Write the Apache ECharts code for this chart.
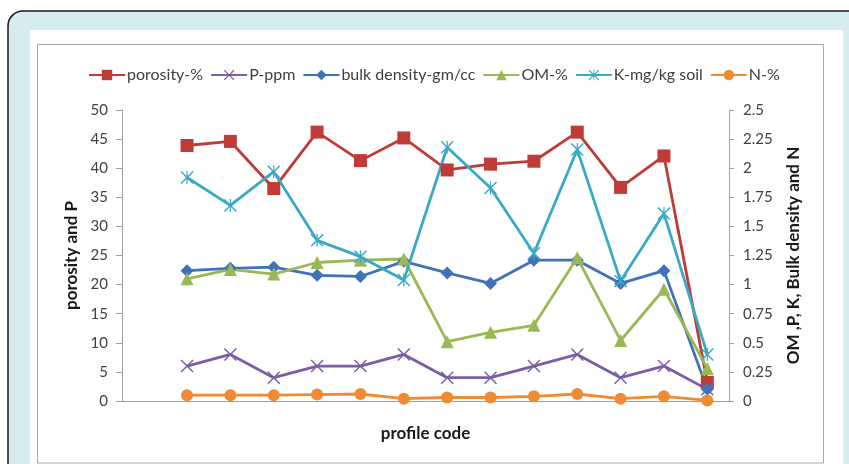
<!DOCTYPE html>
<html>
<head>
<meta charset="utf-8">
<script src="https://cdn.jsdelivr.net/npm/echarts@6/dist/echarts.min.js"></script>
<style>
html,body{margin:0;padding:0;background:#fff;}
#c{width:849px;height:464px;}
</style>
</head>
<body>
<div id="c"></div>
<script>
// Data (first category slot is empty, as in the reference)
const categories = ['', 'P1', 'P2', 'P3', 'P4', 'P5', 'P6', 'P7', 'P8', 'P9', 'P10', 'P11', 'P12', 'P13'];
const porosity = [null, 43.9, 44.6, 36.5, 46.2, 41.3, 45.2, 39.7, 40.7, 41.2, 46.2, 36.7, 42.1, 3.2];
const pPpm = [null, 6, 8, 4, 6, 6, 8, 4, 4, 6, 8, 4, 6, 2];
const bulkDensity = [null, 1.12, 1.14, 1.15, 1.08, 1.07, 1.2, 1.1, 1.01, 1.21, 1.21, 1.01, 1.12, 0.1];
const om = [null, 1.05, 1.13, 1.09, 1.19, 1.21, 1.22, 0.51, 0.59, 0.65, 1.23, 0.52, 0.96, 0.28];
const kSoil = [null, 1.92, 1.68, 1.97, 1.38, 1.24, 1.04, 2.18, 1.83, 1.27, 2.16, 1.03, 1.61, 0.4];
const nPct = [null, 0.05, 0.05, 0.05, 0.055, 0.06, 0.02, 0.03, 0.03, 0.04, 0.06, 0.02, 0.04, 0.005];
const leftTicks = [0, 50, 5];
const rightTicks = [0, 2.5, 0.25];

const xPath = 'path://M0,1.6 L1.6,0 L10,8.4 L18.4,0 L20,1.6 L11.6,10 L20,18.4 L18.4,20 L10,11.6 L1.6,20 L0,18.4 L8.4,10 Z';
const starPath = 'path://M0,1.6 L1.6,0 L10,8.4 L18.4,0 L20,1.6 L11.6,10 L20,18.4 L18.4,20 L10,11.6 L1.6,20 L0,18.4 L8.4,10 Z M9.1,0 L10.9,0 L10.9,20 L9.1,20 Z';

const FONT = 'Lato';
const chart = echarts.init(document.getElementById('c'));
function mk(name, data, color, symbol, size, yIdx) {
  return {
    name: name, type: 'line', data: data, yAxisIndex: yIdx,
    symbol: symbol, symbolSize: size, showSymbol: true,
    lineStyle: {color: color, width: 2.8},
    itemStyle: {color: color, borderColor: color, borderWidth: 0},
    emphasis: {disabled: true},
    connectNulls: false, animation: false
  };
}
chart.setOption({
  animation: false,
  textStyle: {fontFamily: FONT},
  graphic: [
    {type: 'rect', z: -10, shape: {x: 8, y: 11, width: 900, height: 520, r: 15}, style: {fill: '#d7ecf1', stroke: '#1a1a1a', lineWidth: 1.5}},
    {type: 'rect', z: -9, shape: {x: 30, y: 30, width: 813, height: 460}, style: {fill: '#ffffff'}},
    {type: 'rect', z: -8, shape: {x: 37.5, y: 44.5, width: 786, height: 418.5}, style: {fill: 'none', stroke: '#a8a8a8', lineWidth: 1}}
  ],
  legend: {
    left: 83, top: 62, itemWidth: 36, itemHeight: 13, itemGap: 7,
    textStyle: {fontFamily: FONT, fontSize: 16, color: '#404040', padding: [0, 0, 0, -3]},
    data: ['porosity-%', 'P-ppm', 'bulk density-gm/cc', 'OM-%', 'K-mg/kg soil', 'N-%']
  },
  grid: {left: 122, right: 120, top: 110, bottom: 63, containLabel: false},
  xAxis: {
    type: 'category', data: categories, boundaryGap: true,
    name: 'profile code', nameLocation: 'middle', nameGap: 24,
    nameTextStyle: {fontFamily: FONT, fontWeight: 'bold', fontSize: 17, color: '#1a1a1a'},
    axisLine: {lineStyle: {color: '#a0a0a0', width: 1}},
    axisTick: {show: false}, axisLabel: {show: false}, splitLine: {show: false}
  },
  yAxis: [
    {
      type: 'value', min: leftTicks[0], max: leftTicks[1], interval: leftTicks[2],
      name: 'porosity and P', nameLocation: 'middle', nameGap: 38, nameRotate: 90,
      nameTextStyle: {fontFamily: FONT, fontWeight: 'bold', fontSize: 17, color: '#1a1a1a'},
      axisLine: {show: true, lineStyle: {color: '#a0a0a0'}},
      axisTick: {show: true, length: 6, lineStyle: {color: '#a0a0a0'}},
      axisLabel: {fontFamily: FONT, fontSize: 15, color: '#404040', margin: 14},
      splitLine: {show: false}
    },
    {
      type: 'value', min: rightTicks[0], max: rightTicks[1], interval: rightTicks[2],
      name: 'OM ,P, K, Bulk density and N', nameLocation: 'middle', nameGap: 56, nameRotate: 90,
      nameTextStyle: {fontFamily: FONT, fontWeight: 'bold', fontSize: 17, color: '#1a1a1a'},
      axisLine: {show: true, lineStyle: {color: '#a0a0a0'}},
      axisTick: {show: true, length: 5, lineStyle: {color: '#a0a0a0'}},
      axisLabel: {fontFamily: FONT, fontSize: 15, color: '#404040', margin: 14},
      splitLine: {show: false}
    }
  ],
  series: [
    mk('porosity-%', porosity, '#be3b37', 'rect', 13, 0),
    mk('P-ppm', pPpm, '#7b5ea3', xPath, 13, 0),
    mk('bulk density-gm/cc', bulkDensity, '#3f72b8', 'diamond', 13, 1),
    mk('OM-%', om, '#98b954', 'triangle', 13, 1),
    mk('K-mg/kg soil', kSoil, '#3aa9c4', starPath, 13, 1),
    mk('N-%', nPct, '#f08a33', 'circle', 12, 1)
  ]
});
</script>
</body>
</html>
